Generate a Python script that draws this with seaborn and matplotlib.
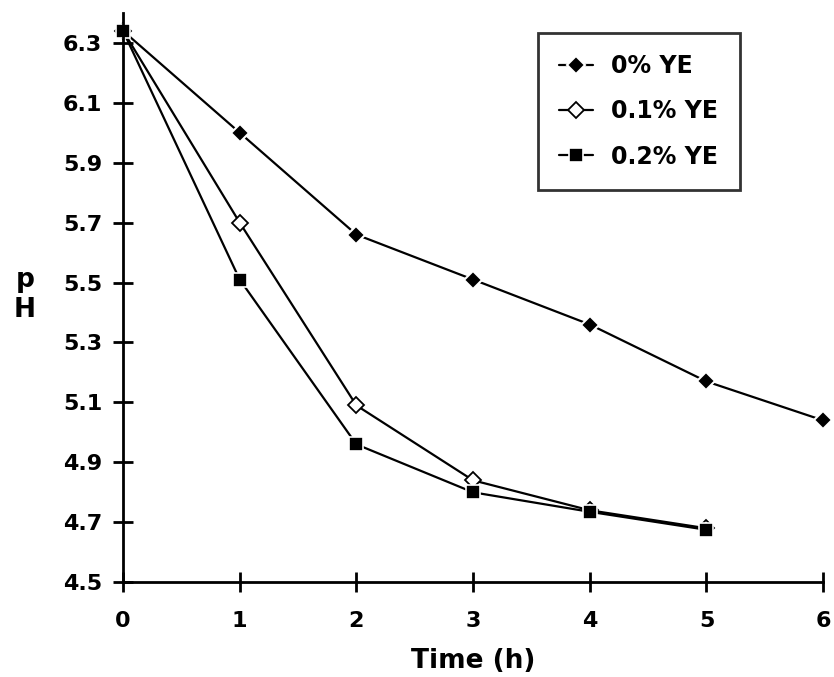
import matplotlib
matplotlib.use("Agg")
import matplotlib.pyplot as plt
import seaborn as sns
import pandas as pd

time_h = [0, 1, 2, 3, 4, 5, 6]
ph_0 = [6.34, 6.00, 5.66, 5.51, 5.36, 5.17, 5.04]
time_h_b = [0, 1, 2, 3, 4, 5]
ph_01 = [6.34, 5.70, 5.09, 4.84, 4.74, 4.68]
ph_02 = [6.34, 5.51, 4.96, 4.80, 4.735, 4.675]
labels = ["0% YE", "0.1% YE", "0.2% YE"]
y_ticks = [4.5, 4.7, 4.9, 5.1, 5.3, 5.5, 5.7, 5.9, 6.1, 6.3]
x_ticks = [0, 1, 2, 3, 4, 5, 6]

sns.set_theme(style="white")
plt.rcParams["font.family"] = ["DejaVu Sans"]
plt.rcParams["text.color"] = "black"
plt.rcParams["axes.labelcolor"] = "black"
plt.rcParams["xtick.color"] = "black"
plt.rcParams["ytick.color"] = "black"

fig = plt.figure(figsize=(8.34, 6.77), dpi=100)
ax = fig.add_axes([0.1475, 0.140, 0.8395, 0.841])

df0 = pd.DataFrame({"t": time_h, "ph": ph_0})
df1 = pd.DataFrame({"t": time_h_b, "ph": ph_01})
df2 = pd.DataFrame({"t": time_h_b, "ph": ph_02})

sns.lineplot(data=df0, x="t", y="ph", ax=ax, color="black", lw=1.6,
             marker="D", markersize=9, markerfacecolor="black",
             markeredgecolor="white", markeredgewidth=1.5, label=labels[0])
sns.lineplot(data=df1, x="t", y="ph", ax=ax, color="black", lw=1.6,
             marker="D", markersize=8, markerfacecolor="white",
             markeredgecolor="black", markeredgewidth=1.3, label=labels[1])
sns.lineplot(data=df2, x="t", y="ph", ax=ax, color="black", lw=1.6,
             marker="s", markersize=10, markerfacecolor="black",
             markeredgecolor="white", markeredgewidth=1.2, label=labels[2])

ax.set_xlim(0, 6)
ax.set_ylim(4.5, 6.40)
ax.set_xticks(x_ticks)
ax.set_yticks(y_ticks)
ax.set_xticklabels([str(v) for v in x_ticks])
ax.set_yticklabels([f"{v:.1f}" for v in y_ticks])
for sp in ["top", "right"]:
    ax.spines[sp].set_visible(False)
for sp in ["left", "bottom"]:
    ax.spines[sp].set_color("black")
    ax.spines[sp].set_linewidth(2)
ax.tick_params(axis="both", direction="inout", length=14, width=2,
               color="black", labelcolor="black", labelsize=16, left=True, bottom=True)
ax.tick_params(axis="x", pad=14)
ax.tick_params(axis="y", pad=8)
for lbl in ax.get_xticklabels() + ax.get_yticklabels():
    lbl.set_fontweight("semibold")
for ln in ax.lines:
    ln.set_clip_on(False)

ax.set_xlabel("Time (h)", fontsize=19, fontweight="bold", labelpad=12, color="black")
ax.set_ylabel("p\nH", fontsize=19, fontweight="bold", rotation=0,
              va="center", ha="center", color="black")
ax.yaxis.set_label_coords(-0.14, 0.505)

leg = ax.legend(loc="upper left", bbox_to_anchor=(0.593, 0.965),
                frameon=True, fancybox=False, edgecolor="black",
                prop={"size": 17, "weight": "bold"}, handlelength=1.4,
                handletextpad=0.8, labelspacing=0.9, borderpad=0.9,
                borderaxespad=0)
leg.get_frame().set_linewidth(2)
for t in leg.get_texts():
    t.set_color("black")

fig.savefig("out.png", dpi=100)
